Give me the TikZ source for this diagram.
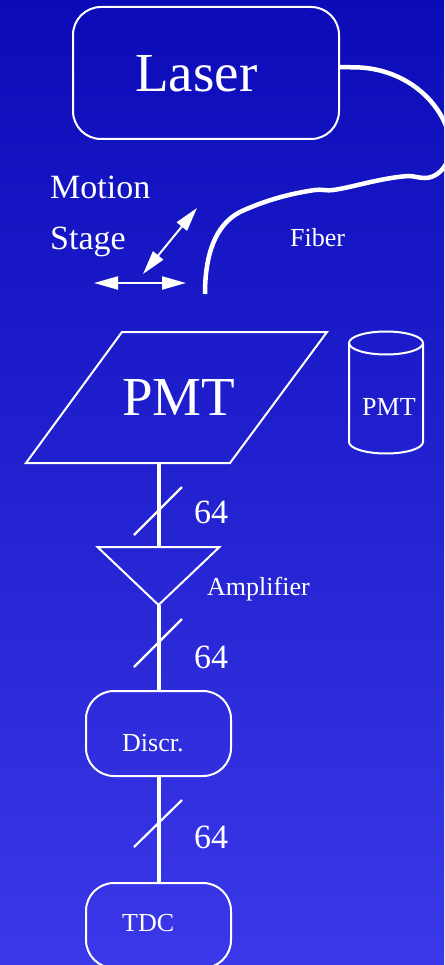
\documentclass[tikz,border=0pt]{standalone}
\usepackage{fontspec}
\setmainfont{Liberation Serif}
\usetikzlibrary{arrows.meta}
\definecolor{bgtop}{RGB}{11,11,184}
\definecolor{bgbot}{RGB}{58,56,232}
\tikzset{
  rbox/.style={draw=white, line width=2pt, rounded corners=28pt, inner sep=0pt},
  lbl/.style={text=white, anchor=base west, inner sep=0pt},
  wire/.style={draw=white, line width=4pt},
  busmark/.style={draw=white, line width=2.2pt},
  fiberline/.style={draw=white, line width=4.5pt},
  motion/.style={draw=white, line width=2pt, {Triangle[length=24pt,width=13pt]}-{Triangle[length=24pt,width=13pt]}},
  outline/.style={draw=white, line width=2pt, line join=miter}
}
\begin{document}
\begin{tikzpicture}[x=1pt,y=-1pt]
\useasboundingbox (0,0) rectangle (444,965);
\shade[top color=bgtop, bottom color=bgbot] (0,0) rectangle (444,965);
\clip (0,0) rectangle (444,965);

% Laser
\node[rbox, minimum width=266pt, minimum height=132pt] (laser) at (206,73) {};
\node[lbl, font=\fontsize{55}{56}\selectfont] (lasertxt) at (135,92) {Laser};

% Fiber
\coordinate (fiberend) at (205,294);
\draw[fiberline] ([yshift=6pt]laser.east) -- (360,67.5)
  .. controls (405,70) and (440,100) .. (449,135)
  .. controls (455,160) and (440,178) .. (425,178)
  .. controls (418,178) and (415,176) .. (408,176)
  .. controls (380,178) and (350,188) .. (333,190)
  .. controls (325,191) and (322,189) .. (315,190)
  .. controls (280,195) and (255,205) .. (240,212)
  .. controls (215,225) and (205,255) .. (fiberend);
\node[lbl, font=\fontsize{26}{27}\selectfont] (fibertxt) at (290,247) {Fiber};

% Motion stage
\node[lbl, font=\fontsize{34}{35}\selectfont] (motiontxt) at (50,199) {Motion};
\node[lbl, font=\fontsize{34}{35}\selectfont] (stagetxt) at (50,250) {Stage};
\coordinate (hl) at (94,283);
\coordinate (hr) at (186,283);
\coordinate (dl) at (143,274);
\coordinate (du) at (197,208);
\draw[motion] (hl) -- (hr);
\draw[motion] (dl) -- (du);

% PMT parallelogram
\coordinate (ptl) at (122,332);
\coordinate (ptr) at (327,332);
\coordinate (pbr) at (230,463);
\coordinate (pbl) at (26,463);
\coordinate (pmtbot) at (158.5,463);
\draw[outline] (ptl) -- (ptr) -- (pbr) -- (pbl) -- cycle;
\node[lbl, font=\fontsize{55}{56}\selectfont] (pmttxt) at (122,415) {PMT};

% Cylinder PMT
\coordinate (cyl) at (386,343);
\draw[draw=white, line width=2pt] (386,343) ellipse [x radius=37pt, y radius=11.5pt];
\draw[draw=white, line width=2pt] (349,343) -- (349,442) arc[start angle=180, end angle=360, x radius=37pt, y radius=11.5pt] -- (423,343);
\node[lbl, font=\fontsize{26}{27}\selectfont] (cyltxt) at (362,415) {PMT};

% Amplifier
\coordinate (atl) at (97.5,547);
\coordinate (atr) at (219.5,547);
\coordinate (atop) at (158.5,547);
\coordinate (atip) at (158.5,605);
\draw[outline] (atl) -- (atr) -- (atip) -- cycle;
\node[lbl, font=\fontsize{26}{27}\selectfont] (amptxt) at (207,595) {Amplifier};

% Discr and TDC
\node[rbox, minimum width=145pt, minimum height=85pt] (discr) at (158.5,733.5) {};
\node[lbl, font=\fontsize{26}{27}\selectfont] (discrtxt) at (122,751) {Discr.};
\node[rbox, minimum width=145pt, minimum height=85pt] (tdc) at (158.5,925.5) {};
\node[lbl, font=\fontsize{26}{27}\selectfont] (tdctxt) at (122,931) {TDC};

% Wires
\draw[wire] (pmtbot) -- (atop);
\draw[wire] (atip) -- (discr.north);
\draw[wire] (discr.south) -- (tdc.north);

% Bus marks
\draw[busmark] (134,535) -- (182,487);
\draw[busmark] (134,667) -- (182,619);
\draw[busmark] (134,847) -- (182,800);
\node[lbl, font=\fontsize{34}{35}\selectfont] (n1) at (194,523) {64};
\node[lbl, font=\fontsize{34}{35}\selectfont] (n2) at (194,668) {64};
\node[lbl, font=\fontsize{34}{35}\selectfont] (n3) at (194,848) {64};
\end{tikzpicture}
\end{document}
